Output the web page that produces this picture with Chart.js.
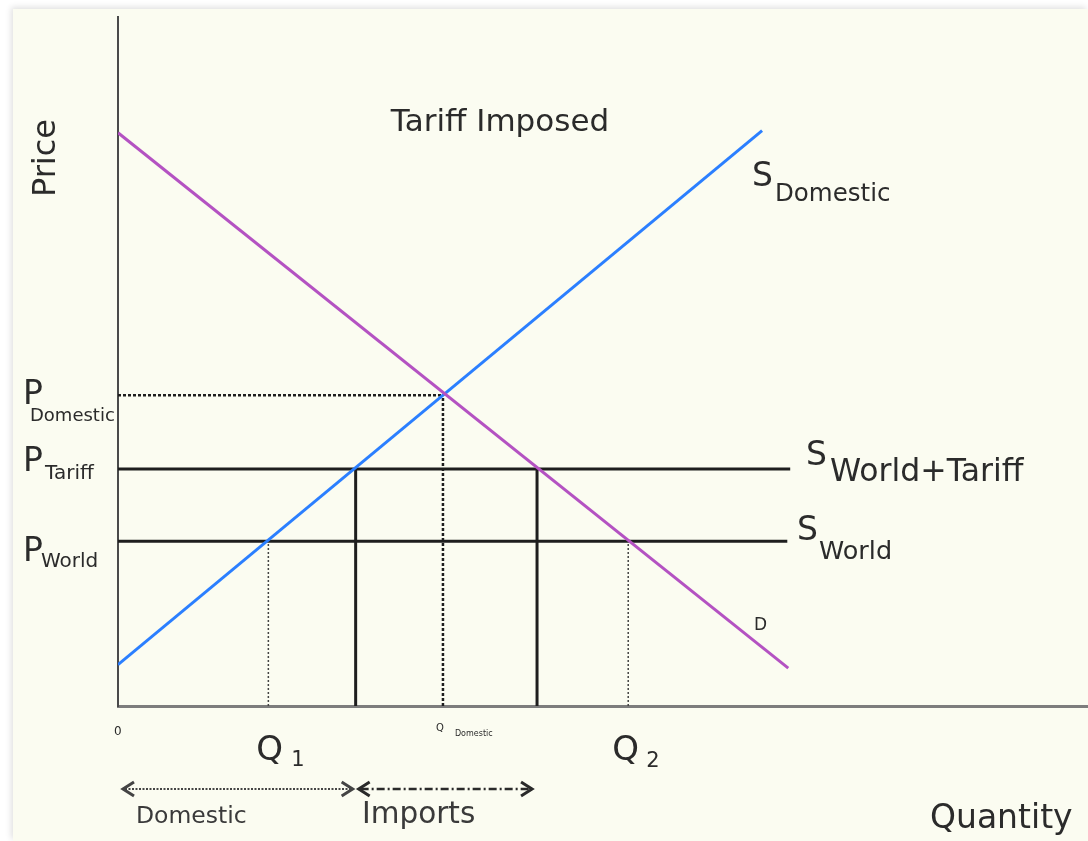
<!DOCTYPE html>
<html>
<head>
<meta charset="utf-8">
<title>Tariff Imposed</title>
<script src="https://cdn.jsdelivr.net/npm/chart.js@4.4.1/dist/chart.umd.min.js"></script>
<style>
  html, body { margin: 0; padding: 0; background: #ffffff; }
  body { width: 1088px; height: 841px; position: relative; overflow: hidden; }
  #panel {
    position: absolute; left: 13px; top: 9px; right: 0; bottom: 0;
    background: #fbfcf1;
    box-shadow: -2px -2px 6px rgba(0,0,0,0.12);
  }
  #tariffChart { position: absolute; left: 0; top: 0; }
</style>
</head>
<body>
<div id="panel"></div>
<canvas id="tariffChart" width="1088" height="841"></canvas>
<script>
// Tariff diagram - domestic supply/demand with world price and tariff

// demand and domestic supply (quantity, price)
const demandQ = [0, 69.1];
const demandP = [83.2, 5.5];
const supplyQ = [0, 66.4];
const supplyP = [6.0, 83.5];

// price levels
const pWorld = 23.9;
const pTariff = 34.4;
const pDomestic = 45.1;

// quantities
const q1 = 15.5;          // domestic supply at world price
const qTariffSupply = 24.5;
const qDomestic = 33.5;
const qTariffDemand = 43.2;
const q2 = 52.6;          // demand at world price

// where the world supply lines stop
const worldLineEnd = 69.0;
const tariffLineEnd = 69.3;

const colors = {
    demand: '#b452c2',
    supply: '#2b7fff',
    line: '#1e1e1e',
    text: '#2b2b2b',
};

const pts = (xs, ys) => xs.map((x, i) => ({ x: x, y: ys[i] }));

const seg = (data, color, width, dash) => ({
    data: data,
    showLine: true,
    borderColor: color,
    borderWidth: width,
    borderDash: dash || [],
    pointRadius: 0,
    fill: false,
});

// labels drawn on top of the chart
const labelPlugin = {
    id: 'labels',
    afterDraw(chart) {
        const ctx = chart.ctx;
        const xs = chart.scales.x;
        const ys = chart.scales.y;
        const X = v => xs.getPixelForValue(v);
        const Y = v => ys.getPixelForValue(v);
        const font = s => s + 'px "DejaVu Sans"';

        ctx.save();
        ctx.fillStyle = colors.text;
        ctx.textBaseline = 'alphabetic';
        ctx.textAlign = 'left';

        const txt = (t, size, x, y) => {
            ctx.font = font(size);
            ctx.fillText(t, x, y);
        };

        // title
        ctx.textAlign = 'center';
        txt('Tariff Imposed', 31, 500, 131);
        ctx.textAlign = 'left';

        // Price axis title
        ctx.save();
        ctx.translate(55, 158);
        ctx.rotate(-Math.PI / 2);
        ctx.textAlign = 'center';
        txt('Price', 32, 0, 0);
        ctx.restore();

        txt('Quantity', 33, 930, 828);

        // price labels on the y axis
        txt('P', 33, 23, Y(pDomestic) + 9);
        txt('Domestic', 18, 30, Y(pDomestic) + 26);
        txt('P', 33, 23, Y(pTariff) + 2);
        txt('Tariff', 20, 45, Y(pTariff) + 10);
        txt('P', 33, 23, Y(pWorld) + 20);
        txt('World', 20, 41, Y(pWorld) + 26);

        // curve labels
        txt('S', 33, 752, 186);
        txt('Domestic', 24.5, 775, 201);
        txt('S', 33, 806, Y(pTariff) - 4);
        txt('World+Tariff', 31.5, 830, Y(pTariff) + 12);
        txt('S', 33, 797, Y(pWorld) - 1);
        txt('World', 25.5, 819, Y(pWorld) + 18);
        txt('D', 17, 754, 630);

        // quantity labels
        txt('0', 12, 114, 735);
        txt('Q', 34, X(q1) - 12, 760);
        txt('1', 21, X(q1) + 23, 766);
        txt('Q', 10, X(qDomestic) - 7, 731);
        txt('Domestic', 8, X(qDomestic) + 12, 736);
        txt('Q', 34, X(q2) - 16, 760);
        txt('2', 21, X(q2) + 18, 767);

        // range arrows under the axis
        const arrowY = 789;
        const arrow = (x1, x2, dash, color, width) => {
            ctx.strokeStyle = color;
            ctx.lineWidth = width;
            ctx.setLineDash(dash);
            ctx.beginPath();
            ctx.moveTo(x1 + 3, arrowY);
            ctx.lineTo(x2 - 3, arrowY);
            ctx.stroke();
            ctx.setLineDash([]);
            ctx.lineWidth = 3;
            ctx.beginPath();
            ctx.moveTo(x1 + 12, arrowY - 7);
            ctx.lineTo(x1 + 1, arrowY);
            ctx.lineTo(x1 + 12, arrowY + 7);
            ctx.moveTo(x2 - 12, arrowY - 7);
            ctx.lineTo(x2 - 1, arrowY);
            ctx.lineTo(x2 - 12, arrowY + 7);
            ctx.stroke();
        };
        arrow(X(0) + 4, X(qTariffSupply) - 2, [2, 1.5], '#444444', 2);
        arrow(X(qTariffSupply) + 2, X(qTariffDemand) - 4, [8, 3, 2, 3], '#2a2a2a', 2.5);

        ctx.fillStyle = '#3a3a3a';
        txt('Domestic', 23.5, 136, 823);
        txt('Imports', 29.5, 362, 823);

        ctx.restore();
    }
};

new Chart(document.getElementById('tariffChart'), {
    type: 'scatter',
    data: {
        datasets: [
            seg(pts(demandQ, demandP), colors.demand, 3),
            seg(pts(supplyQ, supplyP), colors.supply, 3),
            seg(pts([0, tariffLineEnd], [pTariff, pTariff]), colors.line, 3),
            seg(pts([0, worldLineEnd], [pWorld, pWorld]), colors.line, 3),
            seg(pts([qTariffSupply, qTariffSupply], [0, pTariff]), colors.line, 3),
            seg(pts([qTariffDemand, qTariffDemand], [0, pTariff]), colors.line, 3),
            seg(pts([0, qDomestic], [pDomestic, pDomestic]), colors.line, 2.5, [3, 2]),
            seg(pts([qDomestic, qDomestic], [0, pDomestic]), colors.line, 2.5, [3, 2]),
            seg(pts([q1, q1], [0, pWorld]), '#444444', 1.5, [2, 2]),
            seg(pts([q2, q2], [0, pWorld]), '#444444', 1.5, [2, 2]),
        ]
    },
    options: {
        responsive: false,
        animation: false,
        layout: { padding: { left: 118, top: 17, right: 0, bottom: 135 } },
        plugins: {
            legend: { display: false },
            tooltip: { enabled: false },
        },
        scales: {
            x: {
                type: 'linear',
                min: 0,
                max: 100,
                grid: { display: false, drawTicks: false },
                ticks: { display: false },
                border: { display: true, color: '#7d7d7d', width: 3 },
                afterFit: s => { s.height = 0; },
            },
            y: {
                type: 'linear',
                min: 0,
                max: 100,
                grid: { display: false, drawTicks: false },
                ticks: { display: false },
                border: { display: true, color: '#4a4a4a', width: 2 },
                afterFit: s => { s.width = 0; },
            }
        }
    },
    plugins: [labelPlugin]
});
</script>
</body>
</html>
